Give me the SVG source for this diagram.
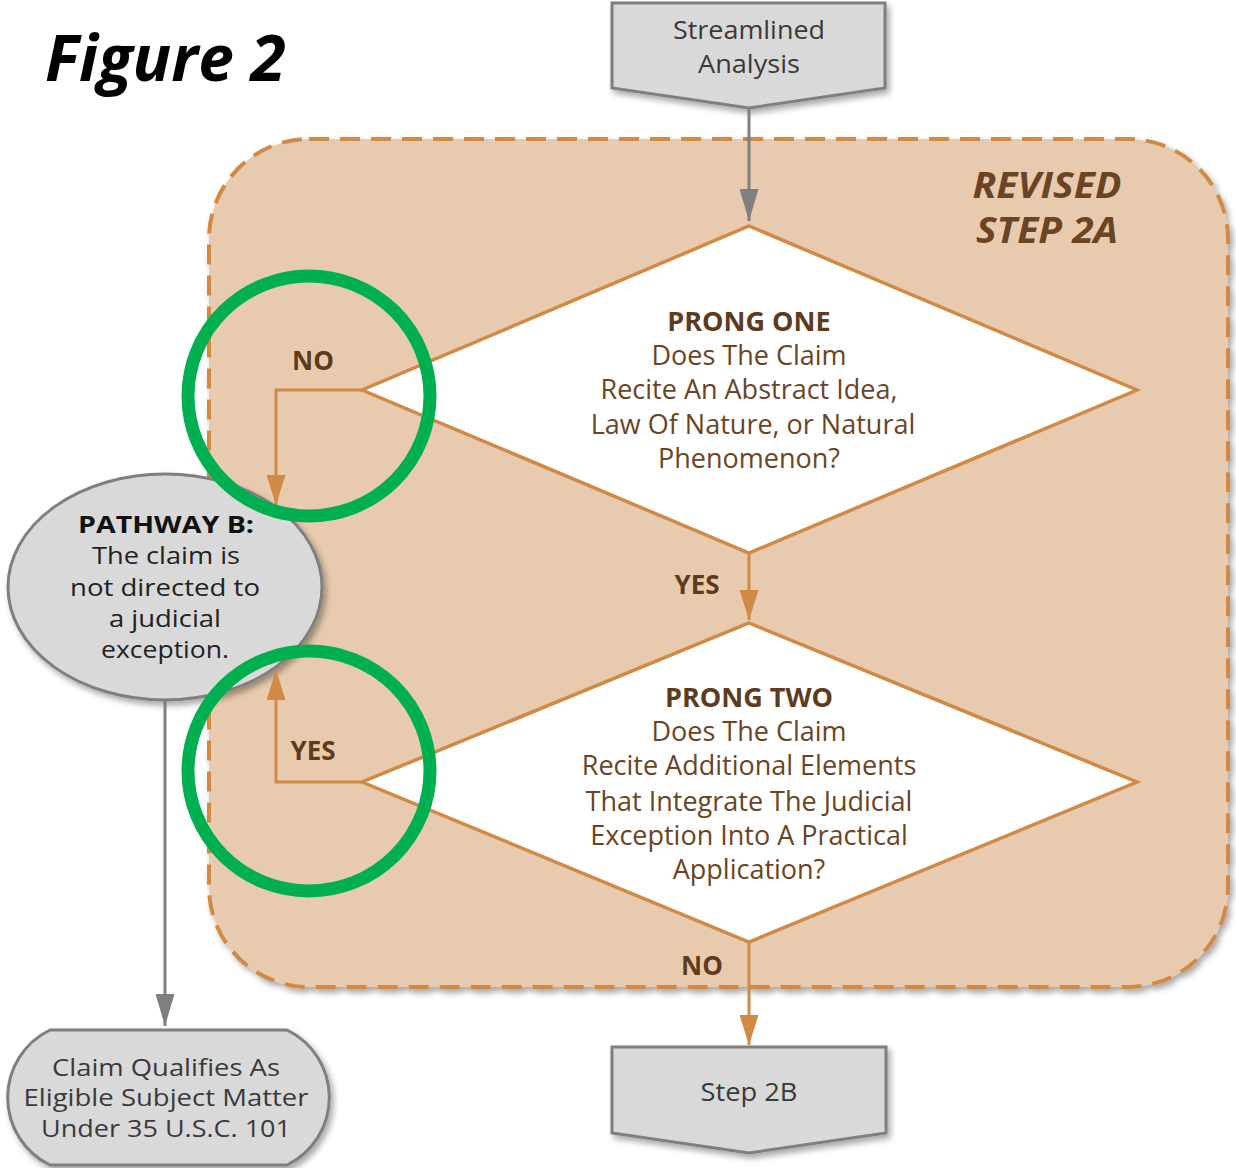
<svg xmlns="http://www.w3.org/2000/svg" width="1236" height="1168" viewBox="0 0 1236 1168">
<defs>
<filter id="sh" x="-10%" y="-10%" width="125%" height="130%">
<feGaussianBlur in="SourceAlpha" stdDeviation="3"/>
<feOffset dx="3" dy="4" result="b"/>
<feComponentTransfer><feFuncA type="linear" slope="0.35"/></feComponentTransfer>
<feMerge><feMergeNode/><feMergeNode in="SourceGraphic"/></feMerge>
</filter>
<marker id="ao" viewBox="0 0 10 10" refX="10" refY="5" markerWidth="30" markerHeight="19" orient="auto" markerUnits="userSpaceOnUse" preserveAspectRatio="none">
<path d="M0,0 L10,5 L0,10 z" fill="#D08A45"/>
</marker>
<marker id="ag" viewBox="0 0 10 10" refX="10" refY="5" markerWidth="32" markerHeight="19" orient="auto" markerUnits="userSpaceOnUse" preserveAspectRatio="none">
<path d="M0,0 L10,5 L0,10 z" fill="#7F7F7F"/>
</marker>
<style>
text{font-family:"Open Sans","Noto Sans","Liberation Sans",sans-serif;text-anchor:middle}
.gray{fill:#D9D9D9;stroke:#7F7F7F;stroke-width:3}
.dia{fill:#FFFFFF;stroke:#D08A45;stroke-width:3.5}
.dt{font-size:27px;fill:#6B4423}
.db{font-size:27px;fill:#5E3B1C;font-weight:bold}
.gt{font-size:25px;fill:#3A3A3A}
.gs{font-size:24px;fill:#222}
.lbl{font-size:26px;font-weight:bold;fill:#5E3B1C}
.co{fill:none;stroke:#D08A45;stroke-width:3}
.cg{fill:none;stroke:#7F7F7F;stroke-width:3}
.ring{fill:none;stroke:#00B050;stroke-width:13}
.rev{font-size:35px;font-weight:bold;font-style:italic;fill:#6B4423}
</style>
</defs>
<rect width="1236" height="1168" fill="#FFFFFF"/>
<text x="45" y="81" style="font-size:64px;font-weight:bold;font-style:italic;fill:#000;text-anchor:start">Figure 2</text>
<g id="step2a">
<rect x="209" y="139" width="1019" height="848" rx="100" ry="100" fill="#E8CBAE" stroke="#D08A45" stroke-width="4" stroke-dasharray="20 11" filter="url(#sh)"/>
<text class="rev" x="1047" y="198" textLength="149" lengthAdjust="spacingAndGlyphs">REVISED</text>
<text class="rev" x="1047" y="243" textLength="142" lengthAdjust="spacingAndGlyphs">STEP 2A</text>
</g>
<g id="streamlined">
<path class="gray" d="M612,3 H885 V88 L749,108 L612,88 Z" filter="url(#sh)"/>
<text class="gt" x="749" y="39" textLength="152" lengthAdjust="spacingAndGlyphs">Streamlined</text>
<text class="gt" x="749" y="73" textLength="102" lengthAdjust="spacingAndGlyphs">Analysis</text>
</g>
<g id="prong1">
<path class="dia" d="M749,226 L1137,390 L749,553 L362,390 Z"/>
<text class="db" x="749" y="331">PRONG ONE</text>
<text class="dt" x="749" y="365">Does The Claim</text>
<text class="dt" x="749" y="399">Recite An Abstract Idea,</text>
<text class="dt" x="753" y="434">Law Of Nature, or Natural</text>
<text class="dt" x="749" y="468">Phenomenon?</text>
</g>
<g id="prong2">
<path class="dia" d="M749,623 L1137,782 L749,942 L362,782 Z"/>
<text class="db" x="749" y="707">PRONG TWO</text>
<text class="dt" x="749" y="741">Does The Claim</text>
<text class="dt" x="749" y="775">Recite Additional Elements</text>
<text class="dt" x="749" y="811">That Integrate The Judicial</text>
<text class="dt" x="749" y="845">Exception Into A Practical</text>
<text class="dt" x="749" y="879">Application?</text>
</g>
<g id="pathwayb">
<ellipse cx="165" cy="587" rx="157" ry="113" fill="#D9D9D9" stroke="#7F7F7F" stroke-width="3" filter="url(#sh)"/>
<text x="166" y="533" style="font-size:23px;font-weight:bold;fill:#111" textLength="176" lengthAdjust="spacingAndGlyphs">PATHWAY B:</text>
<text class="gs" x="166" y="564" textLength="148" lengthAdjust="spacingAndGlyphs">The claim is</text>
<text class="gs" x="165" y="596" textLength="190" lengthAdjust="spacingAndGlyphs">not directed to</text>
<text class="gs" x="165" y="627" textLength="112" lengthAdjust="spacingAndGlyphs">a judicial</text>
<text class="gs" x="165" y="658" textLength="128" lengthAdjust="spacingAndGlyphs">exception.</text>
</g>
<g id="qualifies">
<path class="gray" d="M50,1030 H287 A75,75 0 0 1 287,1165 H50 A75,75 0 0 1 50,1030 Z" filter="url(#sh)"/>
<text class="gs" x="166" y="1076" style="fill:#3A3A3A" textLength="228" lengthAdjust="spacingAndGlyphs">Claim Qualifies As</text>
<text class="gs" x="166" y="1106" style="fill:#3A3A3A" textLength="285" lengthAdjust="spacingAndGlyphs">Eligible Subject Matter</text>
<text class="gs" x="166" y="1137" style="fill:#3A3A3A" textLength="250" lengthAdjust="spacingAndGlyphs">Under 35 U.S.C. 101</text>
</g>
<g id="step2b">
<path class="gray" d="M612,1047 H886 V1133 L749,1153 L612,1133 Z" filter="url(#sh)"/>
<text class="gt" x="749" y="1101" textLength="97" lengthAdjust="spacingAndGlyphs">Step 2B</text>
</g>
<g id="connectors">
<line class="cg" x1="749" y1="108" x2="749" y2="221" marker-end="url(#ag)"/>
<line class="co" x1="749" y1="553" x2="749" y2="620" marker-end="url(#ao)"/>
<line class="co" x1="749" y1="942" x2="749" y2="1045" marker-end="url(#ao)"/>
<polyline class="co" points="362,390 276,390 276,505" marker-end="url(#ao)"/>
<polyline class="co" points="362,782 276,782 276,670" marker-end="url(#ao)"/>
<line class="cg" x1="165" y1="700" x2="165" y2="1026" marker-end="url(#ag)"/>
<text class="lbl" x="313" y="370">NO</text>
<text class="lbl" x="697" y="594">YES</text>
<text class="lbl" x="313" y="760">YES</text>
<text class="lbl" x="702" y="975">NO</text>
</g>
<g id="highlights">
<ellipse class="ring" cx="309" cy="396" rx="121" ry="120"/>
<ellipse class="ring" cx="309" cy="771" rx="121" ry="120"/>
</g>
</svg>
